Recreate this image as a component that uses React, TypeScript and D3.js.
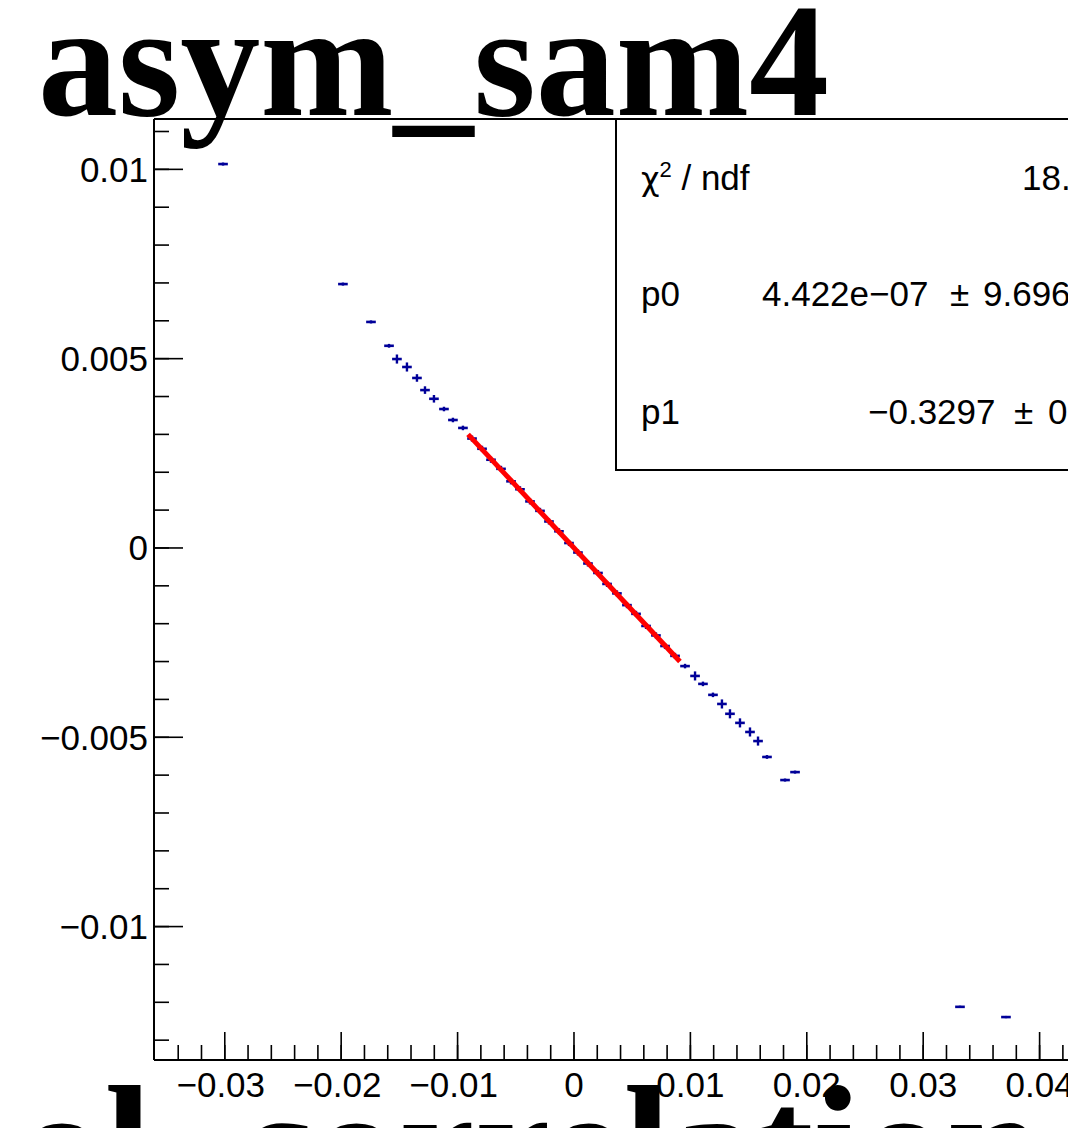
import React from "react";
import * as d3 from "d3";

// ---- data ----
const xCenters = [
  -0.03015, -0.01985, -0.01744, -0.01589, -0.01521, -0.01435, -0.01349, -0.0128, -0.01203, -0.01117, -0.0104, -0.00954,
  -0.00876, -0.0079, -0.00713, -0.00627, -0.00541, -0.00464, -0.00378, -0.00292, -0.00215, -0.00129, -0.00043,
  0.00034, 0.0012, 0.00206, 0.00284, 0.00369, 0.00455, 0.00533, 0.00619, 0.00704, 0.00782, 0.00868,
  0.00954, 0.0104, 0.01108, 0.01194, 0.01271, 0.0134, 0.01426, 0.01512, 0.01581, 0.01658, 0.01813, 0.01899,
  0.03316, 0.03711,
];
const yValues = [
  0.01014, 0.00697, 0.00597, 0.00534, 0.00499, 0.00478, 0.00449, 0.00417, 0.00394, 0.00367, 0.00338, 0.00317,
  0.00289, 0.00262, 0.00233, 0.00209, 0.00176, 0.00155, 0.00123, 0.00098, 0.0007, 0.00044, 0.00013,
  -0.00012, -0.00041, -0.00066, -0.00095, -0.0012, -0.00151, -0.00174, -0.00206, -0.00231, -0.00259, -0.00285,
  -0.00312, -0.00338, -0.00359, -0.00388, -0.00412, -0.00438, -0.00462, -0.00486, -0.0051, -0.00552, -0.00613, -0.00592,
  -0.01212, -0.01239,
];
const yErrors = [
  0.00004, 0.00004, 0.00004, 0.00005, 0.00012, 0.00012, 0.0001, 0.0001, 0.0001, 0.00006, 0.00006, 0.00006,
  0.00008, 0.00008, 0.00008, 0.00008, 0.00008, 0.00008, 0.00008, 0.00008, 0.00008, 0.00008, 0.00008,
  0.00008, 0.00008, 0.00008, 0.00008, 0.00008, 0.00008, 0.00008, 0.00008, 0.00008, 0.00008, 0.00008,
  0.00006, 0.00012, 0.00006, 0.00006, 0.00012, 0.00012, 0.00012, 0.00012, 0.00012, 0.00005, 0.00004, 0.00004,
  0.00003, 0.00003,
];
const BIN_WIDTH = 0.00083;

const fitP0 = 4.422e-7;
const fitP1 = -0.3297;
const fitRange = [-0.0091, 0.0091];

const xMajorTicks = [-0.03, -0.02, -0.01, 0, 0.01, 0.02, 0.03, 0.04];
const xMajorLabels = ["\u22120.03", "\u22120.02", "\u22120.01", "0", "0.01", "0.02", "0.03", "0.04"];
const yMajorTicks = [0.01, 0.005, 0, -0.005, -0.01];
const yMajorLabels = ["0.01", "0.005", "0", "\u22120.005", "\u22120.01"];

const title = "asym_sam4";
const xTitle = "ol_correlation";
const statsLabels = ["p0", "p1"];
const statsChi = "18.";
const p0Parts = ["4.422e\u221207", "\u00b1", "9.696"];
const p1Parts = ["\u22120.3297", "\u00b1", "0"];

export default function App() {
  const W = 1068;
  const H = 1128;
  const left = 154;
  const top = 119;
  const bottom = 1060;

  const x = d3.scaleLinear().domain([-0.03608, 0.04]).range([left, 1039.6]);
  const y = d3.scaleLinear().domain([-0.013524, 0.01133]).range([bottom, top]);

  const xMinor = d3.range(-0.036, 0.0501, 0.002).filter((v) => x(v) >= left + 1);
  const yMinor = d3.range(-0.013, 0.01101, 0.001);

  const fitLine = d3
    .line<number>()
    .x((v) => x(v))
    .y((v) => y(fitP0 + fitP1 * v));

  const sans = "'Liberation Sans', Arial, Helvetica, sans-serif";
  const serif = "'Liberation Serif', 'Times New Roman', serif";
  const blue = "#000099";
  const fs = 35;

  return (
    <div style={{ position: "absolute", left: 0, top: 0 }}>
      <svg width={W} height={H} style={{ display: "block", background: "#fff" }}>
        <rect x={0} y={0} width={W} height={H} fill="#fff" />

        {/* y axis ticks */}
        {yMinor.map((v, i) => (
          <line key={"ym" + i} x1={left} x2={left + 15} y1={y(v)} y2={y(v)} stroke="#000" strokeWidth={1.6} />
        ))}
        {yMajorTicks.map((v, i) => (
          <g key={"yM" + i}>
            <line x1={left} x2={left + 29} y1={y(v)} y2={y(v)} stroke="#000" strokeWidth={1.6} />
            <text x={148} y={y(v) + 12.5} textAnchor="end" fontFamily={sans} fontSize={35} fill="#000">
              {yMajorLabels[i]}
            </text>
          </g>
        ))}

        {/* x axis ticks */}
        {xMinor.map((v, i) => (
          <line key={"xm" + i} x1={x(v)} x2={x(v)} y1={bottom} y2={bottom - 15} stroke="#000" strokeWidth={1.6} />
        ))}
        {xMajorTicks.map((v, i) => (
          <g key={"xM" + i}>
            <line x1={x(v)} x2={x(v)} y1={bottom} y2={bottom - 28} stroke="#000" strokeWidth={1.6} />
            <text
              x={x(v) + (v < 0 ? -4 : 0)}
              y={1097}
              textAnchor="middle"
              fontFamily={sans}
              fontSize={35}
              fill="#000"
            >
              {xMajorLabels[i]}
            </text>
          </g>
        ))}

        {/* frame */}
        <line x1={left} x2={W + 2} y1={top} y2={top} stroke="#000" strokeWidth={2} />
        <line x1={left} x2={left} y1={top} y2={bottom} stroke="#000" strokeWidth={2} />
        <line x1={left} x2={W + 2} y1={bottom} y2={bottom} stroke="#000" strokeWidth={2} />

        {/* data points with error bars */}
        {xCenters.map((xc, i) => (
          <g key={"p" + i}>
            <line
              x1={x(xc - BIN_WIDTH / 2)}
              x2={x(xc + BIN_WIDTH / 2)}
              y1={y(yValues[i])}
              y2={y(yValues[i])}
              stroke={blue}
              strokeWidth={2.6}
            />
            <line
              x1={x(xc)}
              x2={x(xc)}
              y1={y(yValues[i] - yErrors[i])}
              y2={y(yValues[i] + yErrors[i])}
              stroke={blue}
              strokeWidth={2.4}
            />
          </g>
        ))}

        {/* fit line */}
        <path d={fitLine(fitRange) || ""} stroke="#ff0000" strokeWidth={5} fill="none" />

        {/* stats box */}
        <rect x={616} y={top} width={W} height={470 - top} fill="#fff" stroke="#000" strokeWidth={2} />
        <text x={641} y={190} fontFamily={sans} fontSize={fs} fill="#000">
          <tspan fontFamily="'DejaVu Sans', sans-serif" fontSize={32}>χ</tspan>
          <tspan fontSize={22} dy={-13}>2</tspan>
          <tspan dy={13}> / ndf</tspan>
        </text>
        <text x={1022} y={190} fontFamily={sans} fontSize={fs} fill="#000">
          {statsChi}
        </text>
        <text x={641} y={306} fontFamily={sans} fontSize={fs} fill="#000">
          {statsLabels[0]}
        </text>
        <text y={306} fontFamily={sans} fontSize={fs} fill="#000">
          <tspan x={762}>{p0Parts[0]}</tspan>
          <tspan x={950}>{p0Parts[1]}</tspan>
          <tspan x={983}>{p0Parts[2]}</tspan>
        </text>
        <text x={641} y={424} fontFamily={sans} fontSize={fs} fill="#000">
          {statsLabels[1]}
        </text>
        <text y={424} fontFamily={sans} fontSize={fs} fill="#000">
          <tspan x={868}>{p1Parts[0]}</tspan>
          <tspan x={1014}>{p1Parts[1]}</tspan>
          <tspan x={1048}>{p1Parts[2]}</tspan>
        </text>

        {/* titles */}
        <text x={38} y={115} fontFamily={serif} fontWeight="bold" fontSize={160} fill="#000">
          {title}
        </text>
        <text x={19} y={1204} fontFamily={serif} fontWeight="bold" fontSize={171} fill="#000">
          {xTitle}
        </text>
      </svg>
    </div>
  );
}
